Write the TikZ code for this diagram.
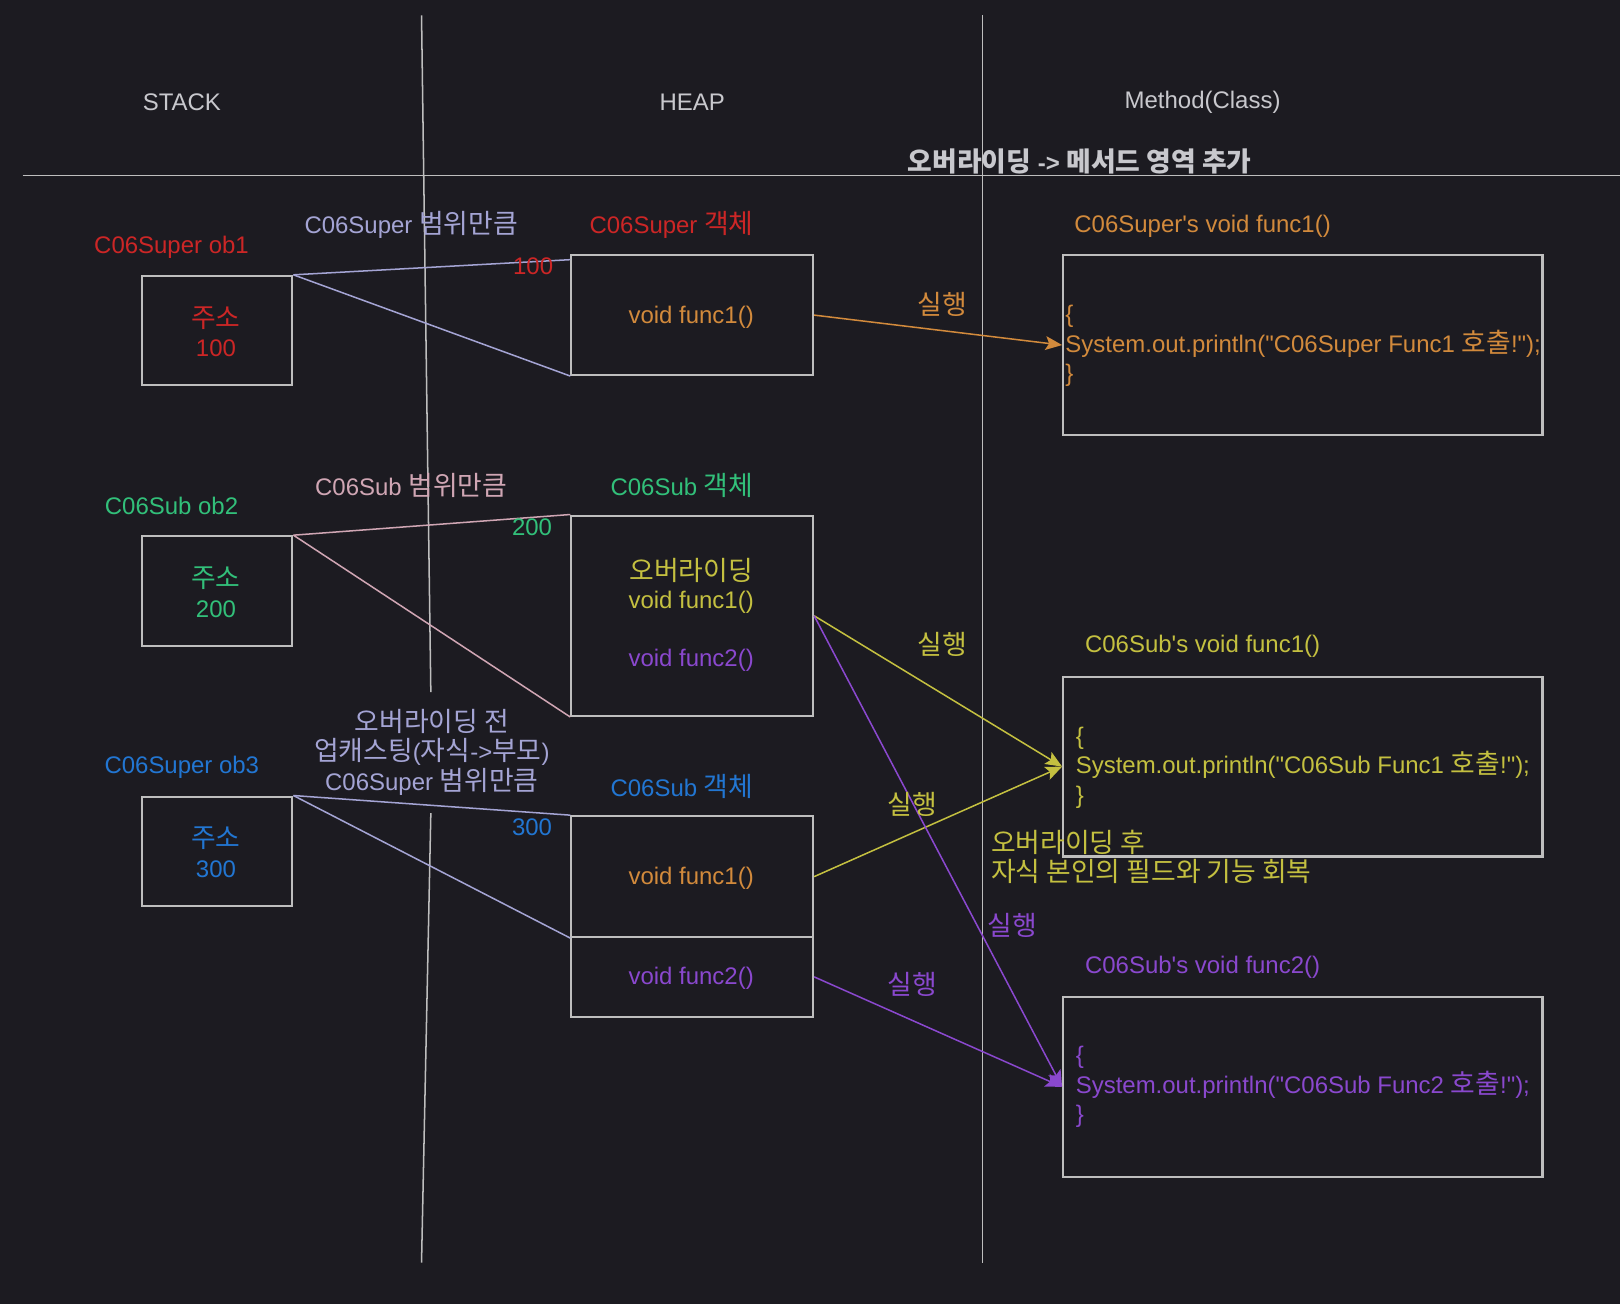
\documentclass[tikz,border=0pt]{standalone}
\usepackage{fontspec}
\setmainfont{Liberation Sans}[Ligatures=TeXOff]
\newfontfamily\kr{Noto Sans CJK KR}[Scale=1.12]
\newcommand{\K}[1]{{\kr #1}}
\usetikzlibrary{arrows.meta}
\definecolor{bg}{RGB}{28,27,33}
\definecolor{lgray}{RGB}{190,190,190}
\definecolor{hgray}{RGB}{200,200,205}
\definecolor{cred}{RGB}{204,38,38}
\definecolor{cgreen}{RGB}{50,192,122}
\definecolor{cblue}{RGB}{34,118,210}
\definecolor{corange}{RGB}{210,138,60}
\definecolor{cyellow}{RGB}{196,192,64}
\definecolor{cpurple}{RGB}{138,72,206}
\definecolor{clav}{RGB}{164,164,212}
\definecolor{cpink}{RGB}{208,166,180}
\newcommand{\fs}{\fontsize{17.4}{21.5}\selectfont}
\begin{document}
\begin{tikzpicture}[x=0.75pt,y=-0.75pt,
  txt/.style={inner sep=0pt,font=\fs},
  box/.style={draw=lgray,line width=1.5pt,inner sep=0pt},
  divider/.style={draw=lgray,line width=1.1pt},
  rng/.style={line width=1.1pt},
  exec/.style={line width=1.1pt,-{Stealth[length=12pt,width=10pt,inset=2.5pt]}}]
\fill[bg] (0,0) rectangle (1568,1262);
\useasboundingbox (0,0) rectangle (1568,1262);
% dividers
\draw[divider] (22,170) -- (1568,170);
\draw[divider] (408,15) -- (417,670);
\draw[divider] (417,787) -- (408,1222);
\draw[divider] (951,15) -- (951,1222);
% headers
\node[txt,text=hgray] (hstack) at (176,99) {STACK};
\node[txt,text=hgray] (hheap) at (670,99) {HEAP};
\node[txt,text=hgray] (hmeth) at (1164,99) {Method(Class)};
\node[txt,text=hgray,font=\fs\bfseries] (htitle) at (1045,156) {\K{오버라이딩} -> \K{메서드 영역 추가}};
% stack boxes
\node[box,minimum width=109.5pt,minimum height=79.5pt] (S1) at (210,320) {};
\node[box,minimum width=109.5pt,minimum height=79.5pt] (S2) at (210,572) {};
\node[box,minimum width=109.5pt,minimum height=79.5pt] (S3) at (210,824) {};
\node[txt,text=cred,align=center] (s1t) at (209,321) {\K{주소}\\100};
\node[txt,text=cgreen,align=center] (s2t) at (209,573) {\K{주소}\\200};
\node[txt,text=cblue,align=center] (s3t) at (209,825) {\K{주소}\\300};
\node[txt,text=cred] (s1l) at (166,239) {C06Super ob1};
\node[txt,text=cgreen] (s2l) at (166,490) {C06Sub ob2};
\node[txt,text=cblue] (s3l) at (176,743) {C06Super ob3};
% heap boxes
\node[box,minimum width=175.5pt,minimum height=87pt] (A) at (670,305) {};
\node[box,minimum width=175.5pt,minimum height=145.5pt] (B) at (670,596) {};
\node[box,minimum width=175.5pt,minimum height=87.75pt] (C) at (670,848.5) {};
\node[box,minimum width=175.5pt,minimum height=57.75pt] (D) at (670,945.5) {};
\node[txt,text=corange] (at) at (669,307) {void func1()};
\node[txt,text=cyellow] (bt1) at (669,552) {\K{오버라이딩}};
\node[txt,text=cyellow] (bt2) at (669,583) {void func1()};
\node[txt,text=cpurple] (bt3) at (669,639) {void func2()};
\node[txt,text=corange] (ct) at (669,850) {void func1()};
\node[txt,text=cpurple] (dt) at (669,947) {void func2()};
\node[txt,text=cred] (al) at (650,218) {C06Super \K{객체}};
\node[txt,text=cgreen] (bl) at (660,470) {C06Sub \K{객체}};
\node[txt,text=cblue] (cl) at (660,761) {C06Sub \K{객체}};
% method boxes
\node[box,minimum width=348pt,minimum height=130.5pt] (M1) at (1261,334) {};
\node[box,minimum width=348pt,minimum height=130.5pt] (M2) at (1261,742) {};
\node[box,minimum width=348pt,minimum height=130.5pt] (M3) at (1261,1052) {};
\node[txt,text=corange,anchor=west,align=left] (m1t) at (1031,335) {\{\\System.out.println("C06Super Func1 \K{호출}!");\\\}};
\node[txt,text=cyellow,anchor=west,align=left] (m2t) at (1041,743) {\{\\System.out.println("C06Sub Func1 \K{호출}!");\\\}};
\node[txt,text=cpurple,anchor=west,align=left] (m3t) at (1041,1052) {\{\\System.out.println("C06Sub Func2 \K{호출}!");\\\}};
\node[txt,text=corange] (m1l) at (1164,219) {C06Super's void func1()};
\node[txt,text=cyellow] (m2l) at (1164,626) {C06Sub's void func1()};
\node[txt,text=cpurple] (m3l) at (1164,936) {C06Sub's void func2()};
% range lines
\draw[rng,clav] (S1.north east) -- ([yshift=-4pt]A.north west);
\draw[rng,clav] (S1.north east) -- (A.south west);
\draw[rng,cpink] (S2.north east) -- (B.north west);
\draw[rng,cpink] (S2.north east) -- (B.south west);
\draw[rng,clav] (S3.north east) -- (C.north west);
\draw[rng,clav] (S3.north east) -- (C.south west);
\node[txt,text=cred] (n100) at (516,258) {100};
\node[txt,text=cgreen] (n200) at (515,510) {200};
\node[txt,text=cblue] (n300) at (515,801) {300};
\node[txt,text=clav] (r1) at (398,218) {C06Super \K{범위만큼}};
\node[txt,text=cpink] (r2) at (398,470) {C06Sub \K{범위만큼}};
\node[txt,text=clav,align=center] (r3) at (418,728) {\K{오버라이딩 전}\\\K{업캐스팅}(\K{자식}->\K{부모})\\C06Super \K{범위만큼}};
% exec arrows
\draw[exec,corange] (A.east) -- (M1.west);
\draw[exec,cyellow] (B.east) -- (M2.west);
\draw[exec,cyellow] (C.east) -- (M2.west);
\draw[exec,cpurple] (B.east) -- (M3.west);
\draw[exec,cpurple] (D.east) -- (M3.west);
\node[txt,text=corange] (e1) at (912,295) {\K{실행}};
\node[txt,text=cyellow] (e2) at (912,624) {\K{실행}};
\node[txt,text=cyellow] (e3) at (883,779) {\K{실행}};
\node[txt,text=cpurple] (e4) at (980,896) {\K{실행}};
\node[txt,text=cpurple] (e5) at (883,953) {\K{실행}};
\node[txt,text=cyellow,anchor=west,align=left] (after) at (959,829.5) {\K{오버라이딩 후}\\\K{자식 본인의 필드와 기능 회복}};
\end{tikzpicture}
\end{document}
